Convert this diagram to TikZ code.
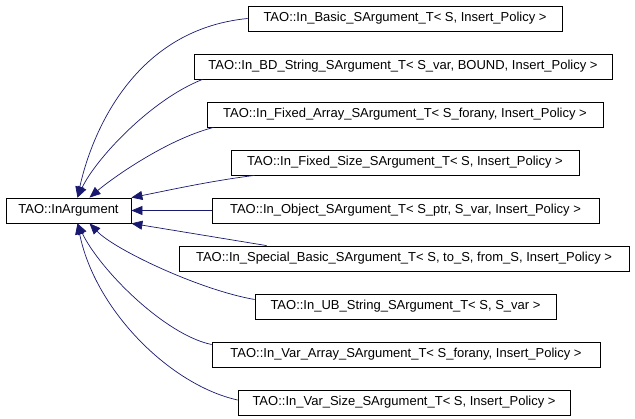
\documentclass[tikz,border=0pt]{standalone}
\usepackage{fontspec}
\setmainfont{Liberation Sans}
\usetikzlibrary{arrows.meta}
\definecolor{edgeblue}{RGB}{25,25,112}
\begin{document}
\begin{tikzpicture}[x=1pt,y=-1pt,
  cls/.style={draw=black,line width=0.8pt,minimum height=25pt,inner sep=0pt,
    font=\fontsize{13}{15}\selectfont,anchor=center},
  inh/.style={draw=edgeblue,line width=0.7pt,-{Triangle[length=11pt,width=9pt]}}]
\useasboundingbox (0,0) rectangle (635,419);
\node[cls,minimum width=125pt] (base) at (68.5,210.5) {TAO::InArgument};
\node[cls,minimum width=314pt] (b1) at (405,18.5) {TAO::In\_Basic\_SArgument\_T< S, Insert\_Policy >};
\node[cls,minimum width=418pt] (b2) at (403,66.5) {TAO::In\_BD\_String\_SArgument\_T< S\_var, BOUND, Insert\_Policy >};
\node[cls,minimum width=396pt] (b3) at (405,114.5) {TAO::In\_Fixed\_Array\_SArgument\_T< S\_forany, Insert\_Policy >};
\node[cls,minimum width=348pt] (b4) at (405,162.5) {TAO::In\_Fixed\_Size\_SArgument\_T< S, Insert\_Policy >};
\node[cls,minimum width=387pt] (b5) at (405.5,210.5) {TAO::In\_Object\_SArgument\_T< S\_ptr, S\_var, Insert\_Policy >};
\node[cls,minimum width=450pt] (b6) at (404,258.5) {TAO::In\_Special\_Basic\_SArgument\_T< S, to\_S, from\_S, Insert\_Policy >};
\node[cls,minimum width=301pt] (b7) at (405.5,306.5) {TAO::In\_UB\_String\_SArgument\_T< S, S\_var >};
\node[cls,minimum width=388pt] (b8) at (406,354.5) {TAO::In\_Var\_Array\_SArgument\_T< S\_forany, Insert\_Policy >};
\node[cls,minimum width=332pt] (b9) at (404,402.5) {TAO::In\_Var\_Size\_SArgument\_T< S, Insert\_Policy >};
\coordinate (tn1) at ([xshift=9pt]base.north);
\coordinate (tn2) at ([xshift=21pt]base.north);
\coordinate (ts1) at ([xshift=9pt]base.south);
\coordinate (ts2) at ([xshift=21pt]base.south);
\draw[inh] (b1.west) .. controls (130,30) and (90,140) .. (tn1);
\draw[inh] ([xshift=9pt]b2.south west) .. controls (150,100) and (95,160) .. (tn1);
\draw[inh] ([xshift=7pt]b3.south west) .. controls (165,140) and (110,180) .. (tn2);
\draw[inh] ([xshift=24pt]b4.south west) .. controls (210,181) and (170,190) .. (base.north east);
\draw[inh] (b5.west) -- (base.east);
\draw[inh] ([xshift=88pt]b6.north west) -- (base.south east);
\draw[inh] ([yshift=7pt]b7.west) .. controls (200,290) and (115,250) .. (ts2);
\draw[inh] ([yshift=10pt]b8.west) .. controls (165,335) and (100,270) .. (ts1);
\draw[inh] ([yshift=2.5pt]b9.west) .. controls (170,385) and (95,310) .. (ts1);
\end{tikzpicture}
\end{document}
